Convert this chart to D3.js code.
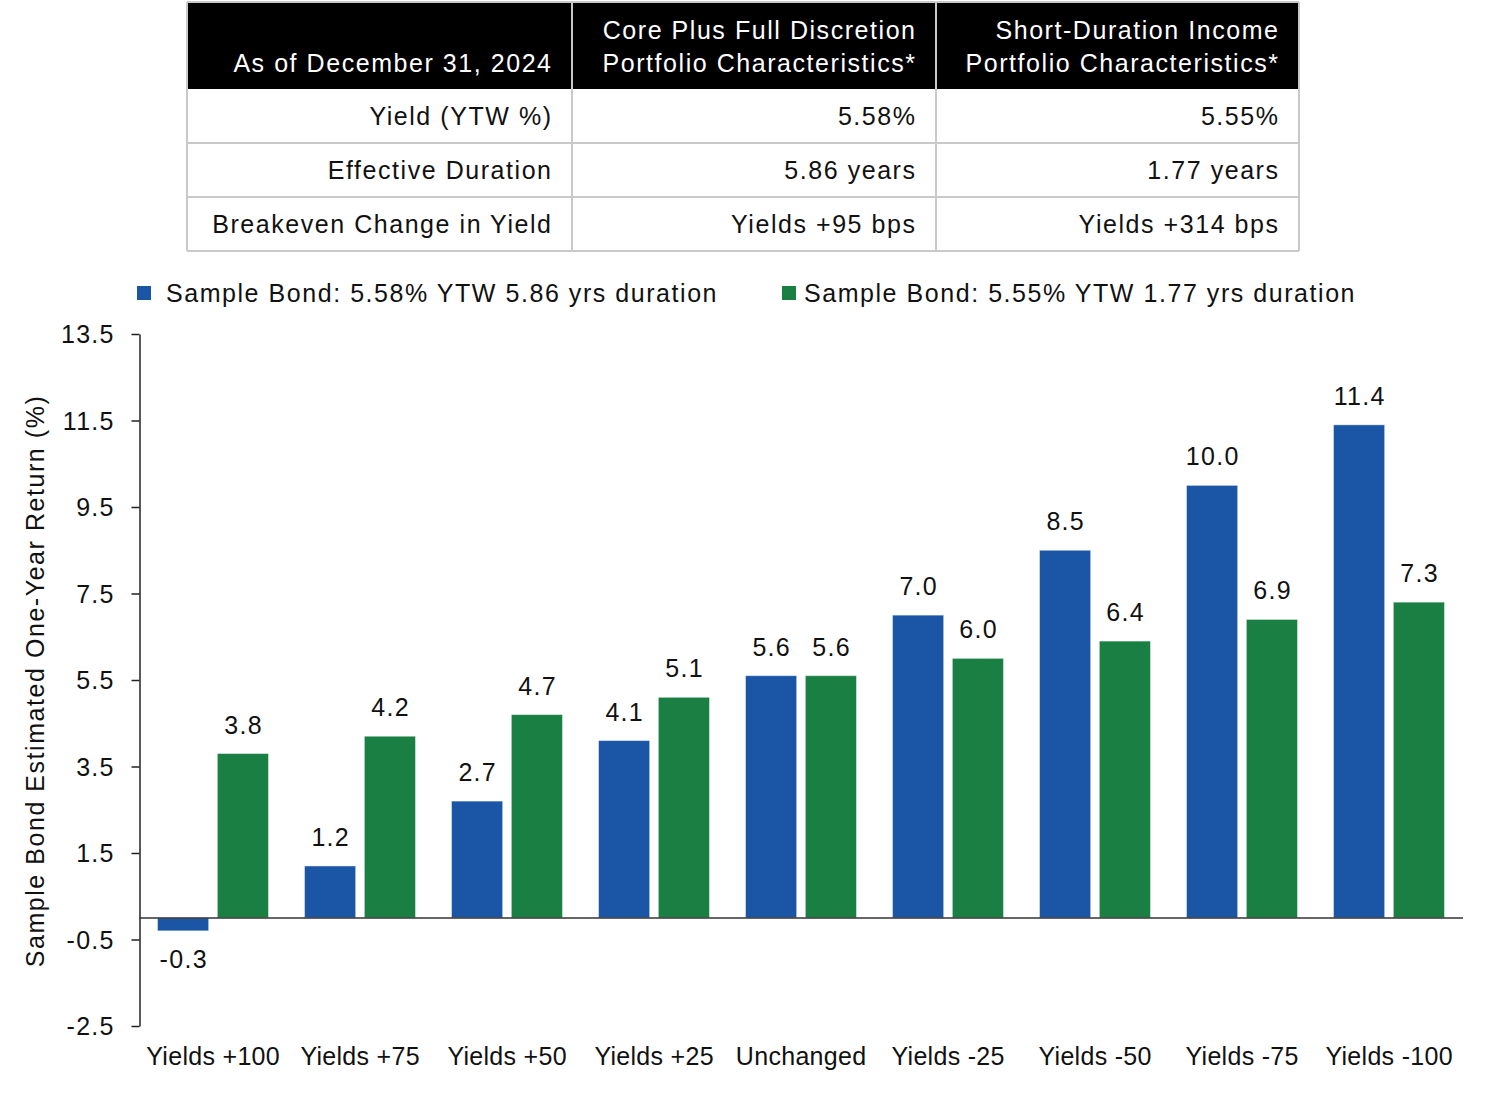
<!DOCTYPE html>
<html><head><meta charset="utf-8">
<script src="https://cdn.jsdelivr.net/npm/d3@7"></script>
<style>
html,body{margin:0;padding:0;background:#fff;}
svg{display:block;font-family:"Liberation Sans",Arial,Helvetica,sans-serif;}
</style></head>
<body>
<svg id="chart" width="1486" height="1113"></svg>
<script>
// ---- data ----
const categories = ["Yields +100","Yields +75","Yields +50","Yields +25","Unchanged","Yields -25","Yields -50","Yields -75","Yields -100"];
const seriesNames = ["Sample Bond: 5.58% YTW 5.86 yrs duration","Sample Bond: 5.55% YTW 1.77 yrs duration"];
const coreValues = [-0.3, 1.2, 2.7, 4.1, 5.6, 7.0, 8.5, 10.0, 11.4];
const shortValues = [3.8, 4.2, 4.7, 5.1, 5.6, 6.0, 6.4, 6.9, 7.3];
const yTicks = [13.5, 11.5, 9.5, 7.5, 5.5, 3.5, 1.5, -0.5, -2.5];
const yTitle = "Sample Bond Estimated One-Year Return (%)";
const tableHeader = [["As of December 31, 2024"],["Core Plus Full Discretion","Portfolio Characteristics*"],["Short-Duration Income","Portfolio Characteristics*"]];
const tableRows = [
  ["Yield (YTW %)","5.58%","5.55%"],
  ["Effective Duration","5.86 years","1.77 years"],
  ["Breakeven Change in Yield","Yields +95 bps","Yields +314 bps"]
];
const colors = ["#1a56a5","#1a7f43"];

const svg = d3.select("#chart");
const FS = 25;
const LS_WIDE = 1.55;   // table, legend, title
const LS_NUM = 1.3;     // ticks, value labels
const LS_X = 0.3;       // category labels

// ---- table ----
const colEdges = [187, 572, 936, 1299];
const headerTop = 2, headerBottom = 89, rowH = 54;
const tbl = svg.append("g");
tbl.append("rect").attr("x",colEdges[0]).attr("y",headerTop).attr("width",colEdges[3]-colEdges[0]).attr("height",headerBottom-headerTop).attr("fill","#000");
tableHeader.forEach((lines,i)=>{
  const xr = colEdges[i+1]-21+LS_WIDE;
  const t = tbl.append("text").attr("fill","#fff").attr("font-size",FS).attr("text-anchor","end").attr("letter-spacing",LS_WIDE);
  if(lines.length===1){
    t.append("tspan").attr("x",xr).attr("y",72).text(lines[0]);
  } else {
    lines.forEach((l,j)=>t.append("tspan").attr("x",xr).attr("y",39+j*33).text(l));
  }
});
tableRows.forEach((row,r)=>{
  const y0 = headerBottom + r*rowH;
  row.forEach((cell,c)=>{
    tbl.append("text").attr("x",colEdges[c+1]-21+LS_WIDE).attr("y",y0+rowH/2+9).attr("text-anchor","end")
      .attr("font-size",FS).attr("letter-spacing",LS_WIDE).attr("fill","#111").text(cell);
  });
});
// grid lines
const gridCol = "#c9c9c9";
const tBottom = headerBottom + rowH*tableRows.length;
for(let r=1;r<=tableRows.length;r++){
  tbl.append("line").attr("x1",colEdges[0]).attr("x2",colEdges[3]).attr("y1",headerBottom+r*rowH).attr("y2",headerBottom+r*rowH).attr("stroke",gridCol).attr("stroke-width",2);
}
colEdges.forEach(x=>{
  tbl.append("line").attr("x1",x).attr("x2",x).attr("y1",headerTop).attr("y2",tBottom).attr("stroke",gridCol).attr("stroke-width",2);
});
tbl.append("line").attr("x1",colEdges[0]).attr("x2",colEdges[3]).attr("y1",headerTop).attr("y2",headerTop).attr("stroke",gridCol).attr("stroke-width",2);

// ---- legend ----
const legendX = [137, 782];
seriesNames.forEach((n,i)=>{
  svg.append("rect").attr("x",legendX[i]).attr("y",286).attr("width",14).attr("height",14).attr("fill",colors[i]);
  svg.append("text").attr("x",legendX[i]+(i===0?29:22)).attr("y",302).attr("font-size",FS)
    .attr("letter-spacing",LS_WIDE).attr("fill","#111").text(n);
});

// ---- chart ----
const x0 = d3.scaleBand().domain(categories).range([139.5, 1462.5]).padding(0);
const x1 = d3.scaleBand().domain([0,1]).range([18, 129]).paddingInner(0.145);
const y = d3.scaleLinear().domain([-2.5, 13.5]).range([1026, 334]);

const data = categories.map((c,i)=>({cat:c, vals:[coreValues[i], shortValues[i]]}));

const groups = svg.append("g").selectAll("g").data(data).join("g")
  .attr("transform",d=>`translate(${x0(d.cat)},0)`);
groups.selectAll("rect").data(d=>d.vals.map((v,k)=>({v,k}))).join("rect")
  .attr("x",d=>x1(d.k)).attr("width",x1.bandwidth())
  .attr("y",d=>y(Math.max(0,d.v))).attr("height",d=>Math.abs(y(d.v)-y(0)))
  .attr("fill",d=>colors[d.k]).attr("stroke","rgba(255,255,255,0.45)").attr("stroke-width",1);
groups.selectAll("text.val").data(d=>d.vals.map((v,k)=>({v,k}))).join("text").attr("class","val")
  .attr("x",d=>x1(d.k)+x1.bandwidth()/2+LS_NUM/2)
  .attr("y",d=>d.v>=0 ? y(d.v)-20 : y(d.v)+37)
  .attr("text-anchor","middle").attr("font-size",FS).attr("letter-spacing",LS_NUM).attr("fill","#111")
  .text(d=>d.v.toFixed(1));

// y axis
const yAxis = d3.axisLeft(y).tickValues(yTicks).tickSize(8).tickSizeOuter(0).tickFormat(d=>d.toFixed(1));
const ya = svg.append("g").attr("transform","translate(139.5,0)").call(yAxis);
ya.select(".domain").attr("stroke","#222").attr("stroke-width",1.5);
ya.selectAll(".tick line").attr("stroke","#222").attr("stroke-width",1.5);
ya.selectAll(".tick text").attr("font-size",FS).attr("fill","#111").attr("x",-26+LS_NUM)
  .attr("letter-spacing",LS_NUM)
  .attr("font-family","'Liberation Sans',Arial,sans-serif").attr("dy","0.35em");

// zero baseline
svg.append("line").attr("x1",139.5).attr("x2",1463).attr("y1",y(0)).attr("y2",y(0)).attr("stroke","#333").attr("stroke-width",1.5);

// x labels
svg.append("g").selectAll("text").data(categories).join("text")
  .attr("x",d=>x0(d)+x0.bandwidth()/2+LS_X/2).attr("y",1065).attr("text-anchor","middle")
  .attr("font-size",FS).attr("letter-spacing",LS_X).attr("fill","#111").text(d=>d);

// y title
svg.append("text").attr("transform",`translate(44,681) rotate(-90)`).attr("text-anchor","middle")
  .attr("font-size",FS).attr("letter-spacing",LS_WIDE).attr("fill","#111").text(yTitle);
</script>
</body></html>
